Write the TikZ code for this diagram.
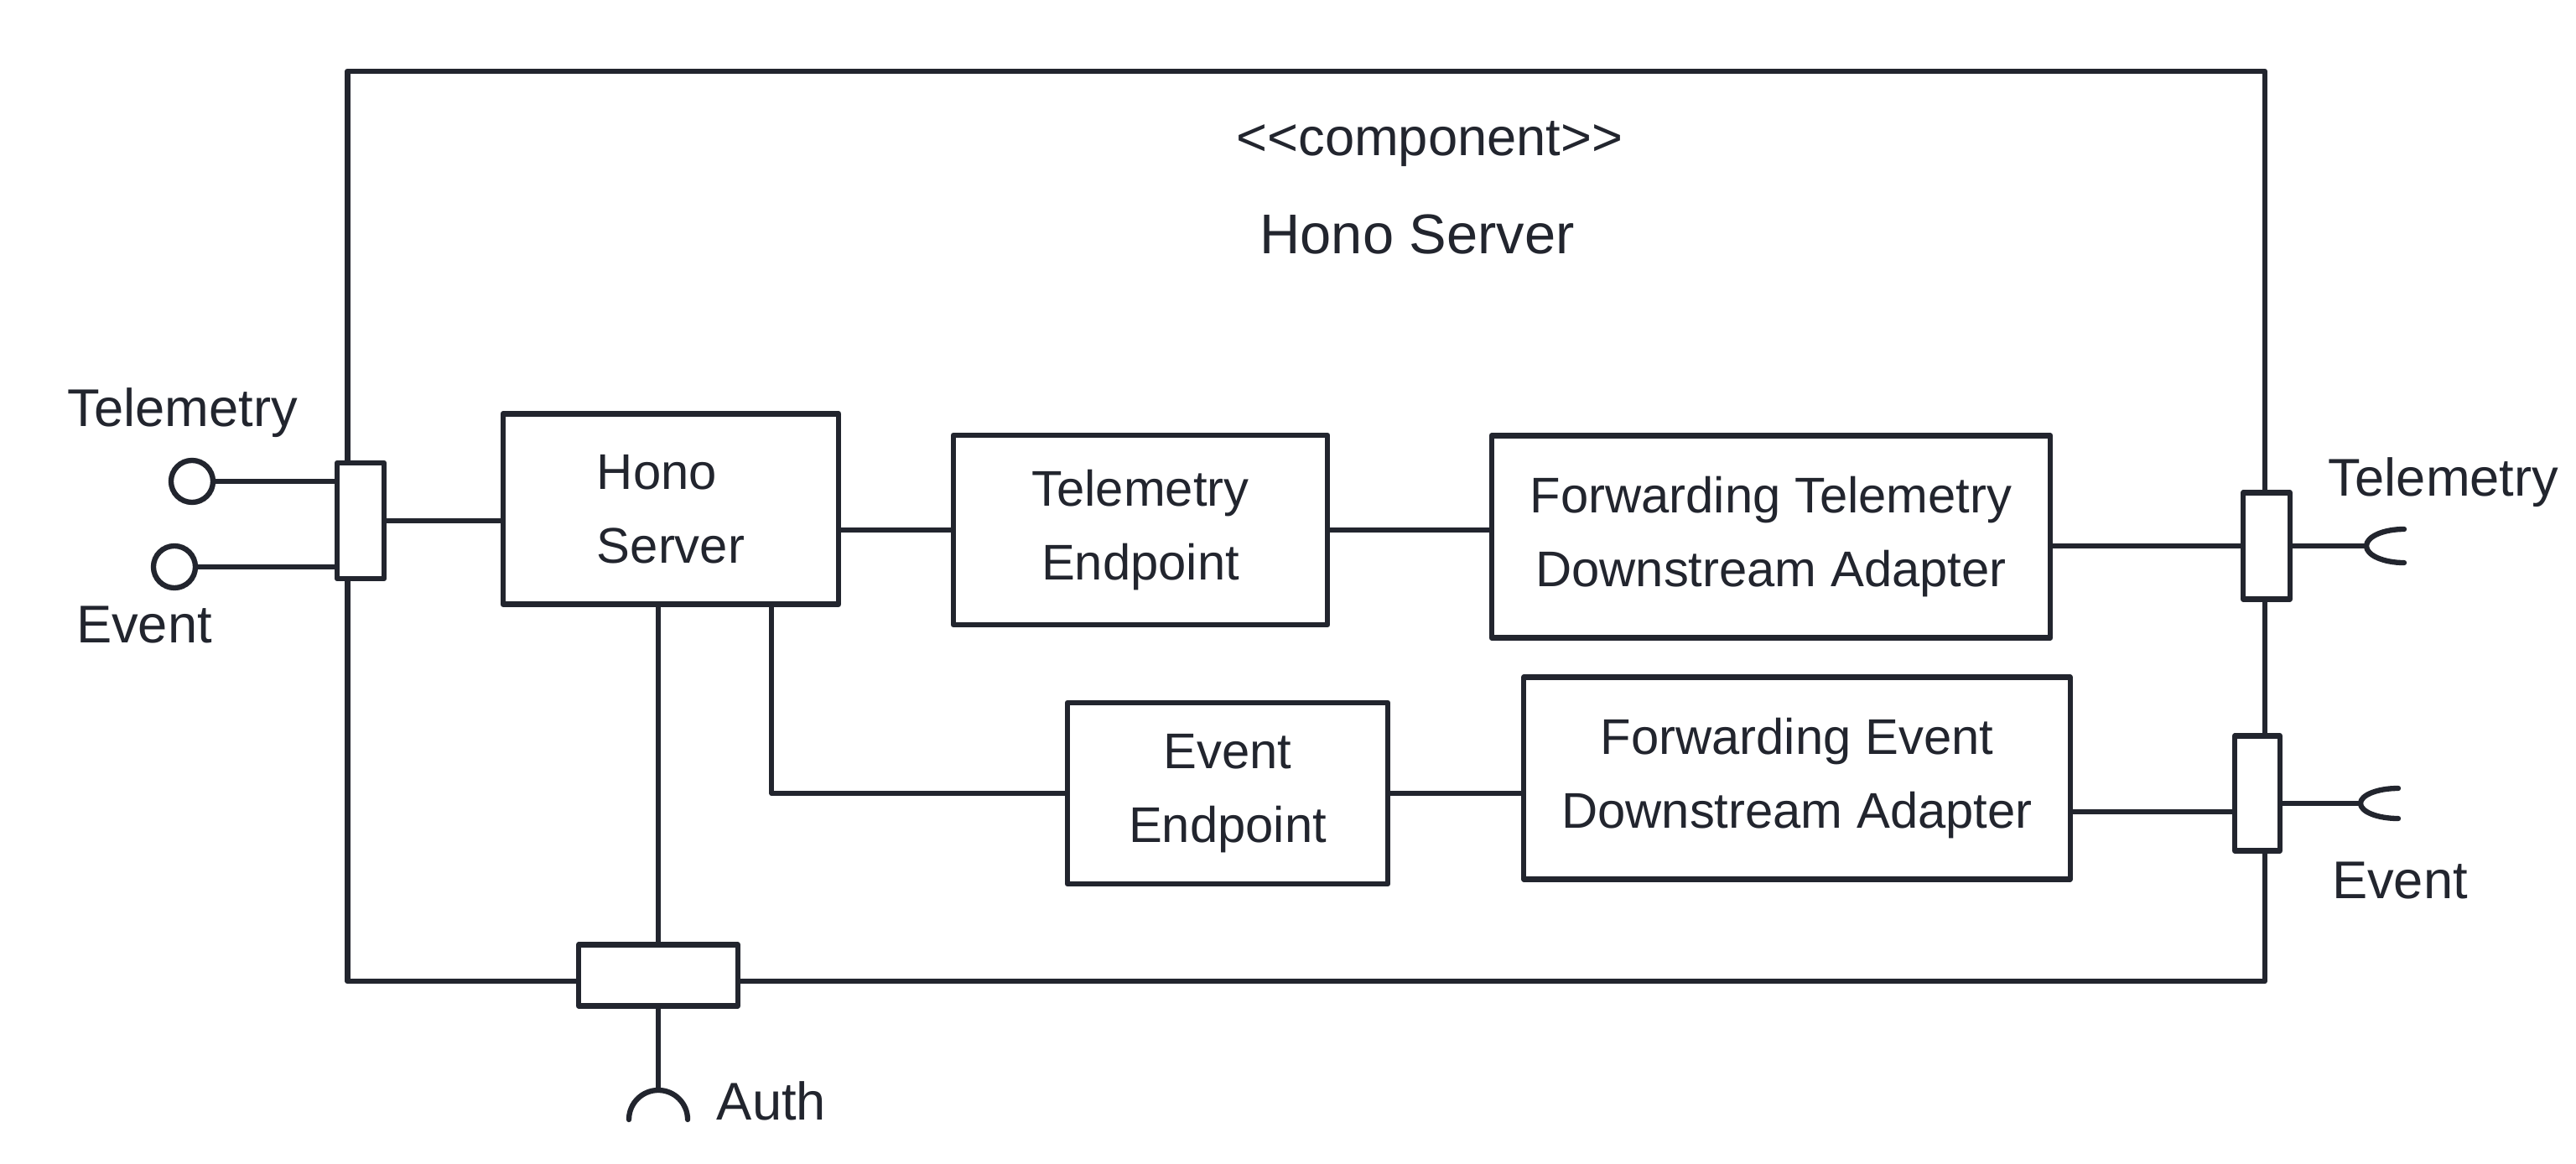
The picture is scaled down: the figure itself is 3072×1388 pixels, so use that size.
\documentclass[tikz,border=0pt]{standalone}
\usepackage{fontspec}
\setmainfont{Liberation Sans}
\usepackage{xcolor}
\usetikzlibrary{calc}
\definecolor{ink}{HTML}{22252E}
\definecolor{paper}{HTML}{FFFFFF}
\tikzset{
  base/.style={draw=ink, line width=1.8pt, line cap=round, line join=round},
  box/.style={base, rectangle, inner sep=0pt, text=ink, font=\fontsize{17}{25}\selectfont, align=center},
  port/.style={base, rectangle, fill=paper, inner sep=0pt},
  lolli/.style={base, circle, minimum size=0.5cm, inner sep=0pt},
  lab/.style={text=ink, font=\fontsize{18}{22}\selectfont, inner sep=0pt},
}

\begin{document}
\begin{tikzpicture}[x=0.01cm, y=-0.01cm]
  \fill[paper] (0,0) rectangle (3072,1388);
  \useasboundingbox (0,0) rectangle (3072,1388);

  % component frame
  \node[base, rectangle, minimum width=22.85cm, minimum height=10.85cm] (hono) at (1557.5,627.5) {};
  \node[lab] (stereo) at (1705,172) {{<}{<}component{>}{>}};
  \node[lab, font=\fontsize{19}{22}\selectfont] (title) at (1690,280) {Hono Server};

  % ports
  \node[port, minimum width=0.56cm, minimum height=1.38cm] (pL) at (430,621) {};
  \node[port, minimum width=0.56cm, minimum height=1.27cm] (pT) at (2703,651) {};
  \node[port, minimum width=0.54cm, minimum height=1.37cm] (pE) at (2692,946) {};
  \node[port, minimum width=1.9cm, minimum height=0.73cm] (pA) at (785,1163) {};

  % inner parts
  \node[box, align=left, minimum width=4cm, minimum height=2.27cm] (server) at (800,607) {Hono\\Server};
  \node[box, minimum width=4.46cm, minimum height=2.26cm] (te) at (1360,632) {Telemetry\\Endpoint};
  \node[box, minimum width=6.66cm, minimum height=2.41cm] (ftda) at (2112,640) {Forwarding Telemetry\\Downstream Adapter};
  \node[box, minimum width=3.82cm, minimum height=2.16cm] (ee) at (1464,946) {Event\\Endpoint};
  \node[box, minimum width=6.51cm, minimum height=2.41cm] (feda) at (2143,928) {Forwarding Event\\Downstream Adapter};

  % provided interfaces
  \node[lolli] (lt) at (229,574) {};
  \node[lolli] (le) at (208,676) {};
  \draw[base] (lt.east) -- (lt.east -| pL.west);
  \draw[base] (le.east) -- (le.east -| pL.west);

  \draw[base] (pL.east) -- (pL.east -| server.west);
  \draw[base] (te.west -| server.east) -- (te.west);
  \draw[base] (te.east) -- (te.east -| ftda.west);
  \draw[base] (pT.west -| ftda.east) -- (pT.west);
  \draw[base] ($(server.south east)+(-83,0)$) |- (ee.west);
  \draw[base] (ee.east) -- (ee.east -| feda.west);
  \coordinate (pEin) at ($(pE.west)+(0,22)$);
  \draw[base] (pEin -| feda.east) -- (pEin);
  \draw[base] (pA.north |- server.south) -- (pA.north);

  % required interfaces
  \coordinate (sT) at (2822,651);
  \coordinate (sE) at (2815,958);
  \coordinate (sA) at (785,1300);
  \draw[base] (pT.east) -- (sT);
  \draw[base] ($(sT)+(45,-20)$) arc[start angle=90, end angle=270, x radius=0.45cm, y radius=0.2cm];
  \draw[base] (pE.east |- sE) -- (sE);
  \draw[base] ($(sE)+(45,-18)$) arc[start angle=90, end angle=270, x radius=0.45cm, y radius=0.18cm];
  \draw[base] (pA.south) -- (sA);
  \draw[base] ($(sA)+(-35,35)$) arc[start angle=180, end angle=0, radius=0.35cm];

  \node[lab] (tlL) at (218,492) {Telemetry};
  \node[lab] (evL) at (172,745) {Event};
  \node[lab] (tlR) at (2914,575) {Telemetry};
  \node[lab] (evR) at (2862,1050) {Event};
  \node[lab] (auth) at (920,1313) {Auth};
\end{tikzpicture}
\end{document}
